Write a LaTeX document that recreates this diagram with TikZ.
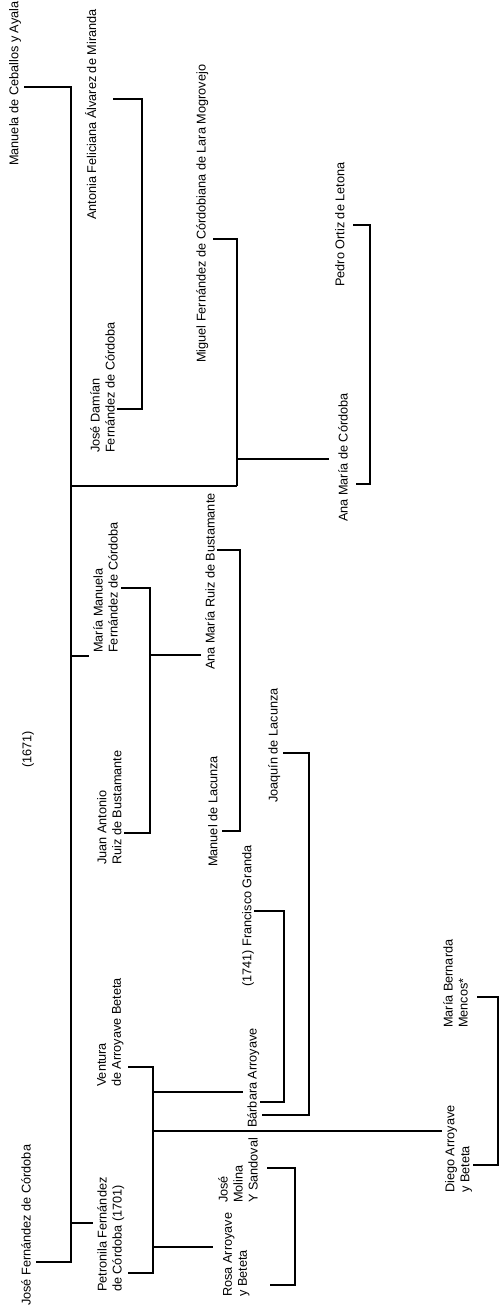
\documentclass[tikz,border=0pt]{standalone}
\usepackage{fontspec}
\setmainfont{Liberation Sans}
\usetikzlibrary{calc}
\tikzset{
  person/.style={rotate=90,anchor=north west,inner sep=0pt,align=left,
    font=\fontsize{12.7}{15}\selectfont,text=black},
  tie/.style={line width=2.4pt,draw=black},
  kin/.style={line width=1.6pt,draw=black},
}

\begin{document}
\begin{tikzpicture}[x=1pt,y=-1pt]
  \useasboundingbox[fill=white] (0,0) rectangle (500,1308);
  % names: left edge and foot of each label
  \node[person] (manuela) at (9,166) {Manuela de Ceballos y Ayala};
  \node[person] (antonia) at (85,220) {Antonia Feliciana Álvarez de Miranda};
  \node[person] (damian) at (90,453) {José Damían\\Fernández de Córdoba};
  \node[person] (miguel) at (196,363) {Miguel Fernández de Córdobiana de Lara Mogrovejo};
  \node[person] (pedro) at (335,287) {Pedro Ortiz de Letona};
  \node[person] (anacord) at (338,522) {Ana María de Córdoba};
  \node[person] (mmanuela) at (93,653) {María Manuela\\Fernández de Córdoba};
  \node[person] (anaruiz) at (205,670) {Ana María Ruiz de Bustamante};
  \node[person] (year) at (22,768) {(1671)};
  \node[person] (juanant) at (97,865) {Juan Antonio\\Ruiz de Bustamante};
  \node[person] (manuel) at (208,867) {Manuel de Lacunza};
  \node[person] (joaquin) at (268,803) {Joaquín de Lacunza};
  \node[person] (granda) at (242,987) {(1741) Francisco Granda};
  \node[person] (ventura) at (97,1087) {Ventura\\de Arroyave Beteta};
  \node[person] (barbara) at (247,1128) {Bárbara Arroyave};
  \node[person] (bernarda) at (443,1028) {María Bernarda\\Mencos*};
  \node[person] (diego) at (445,1193) {Diego Arroyave\\y Beteta};
  \node[person] (molina) at (218,1203) {José\\Molina\\Y Sandoval};
  \node[person] (petronila) at (97,1292) {Petronila Fernández\\de Córdoba (1701)};
  \node[person] (rosa) at (223,1297) {Rosa Arroyave\\y Beteta};
  \node[person] (josefc) at (21,1306) {José Fernández de Córdoba};
  % where the lines meet the names
  \coordinate (manuela-e) at (24,87);
  \coordinate (josefc-e) at (36,1262);
  \coordinate (antonia-e) at (113,99);
  \coordinate (damian-e) at (117,409);
  \coordinate (miguel-e) at (213,239);
  \coordinate (miguel-b) at (237,486);
  \coordinate (pedro-e) at (353,225);
  \coordinate (anacord-e) at (356,484);
  \coordinate (mmanuela-e) at (121,588);
  \coordinate (juanant-e) at (124,833);
  \coordinate (anaruiz-e) at (217,550);
  \coordinate (manuel-e) at (222,831);
  \coordinate (joaquin-e) at (283,753);
  \coordinate (granda-e) at (254,911);
  \coordinate (barbara-e1) at (260,1102);
  \coordinate (barbara-e2) at (262,1115);
  \coordinate (ventura-e) at (128,1067);
  \coordinate (petronila-e) at (128,1273);
  \coordinate (bernarda-e) at (477,997);
  \coordinate (diego-e) at (473,1165);
  \coordinate (molina-e) at (267,1168);
  \coordinate (rosa-e) at (270,1285);
  % branch points and child ends
  \coordinate (main-1) at (71,486);
  \coordinate (main-2) at (71,656);
  \coordinate (main-3) at (71,1223);
  \coordinate (mmanuela-s) at (89,656);
  \coordinate (petronila-s) at (93,1223);
  \coordinate (miguel-j) at (237,459);
  \coordinate (anacord-s) at (329,459);
  \coordinate (mmanuela-j) at (150,655);
  \coordinate (anaruiz-s) at (201,655);
  \coordinate (ventura-1) at (153,1092);
  \coordinate (ventura-2) at (153,1131);
  \coordinate (ventura-3) at (153,1247);
  \coordinate (barbara-s) at (243,1092);
  \coordinate (diego-s) at (442,1131);
  \coordinate (rosa-s) at (213,1247);
  % couples
  \foreach \a/\b/\dx in {manuela-e/josefc-e/47,antonia-e/damian-e/29,
      miguel-e/miguel-b/24,pedro-e/anacord-e/17,mmanuela-e/juanant-e/29,
      anaruiz-e/manuel-e/23,joaquin-e/barbara-e2/26,granda-e/barbara-e1/30,
      ventura-e/petronila-e/25,bernarda-e/diego-e/21,molina-e/rosa-e/28}
    \draw[tie] (\a) -- ++(\dx,0) |- (\b);
  % children
  \foreach \a/\b in {main-1/miguel-b,main-2/mmanuela-s,main-3/petronila-s,
      miguel-j/anacord-s,mmanuela-j/anaruiz-s,ventura-1/barbara-s,
      ventura-2/diego-s,ventura-3/rosa-s}
    \draw[kin] (\a) -- (\b);
\end{tikzpicture}
\end{document}
